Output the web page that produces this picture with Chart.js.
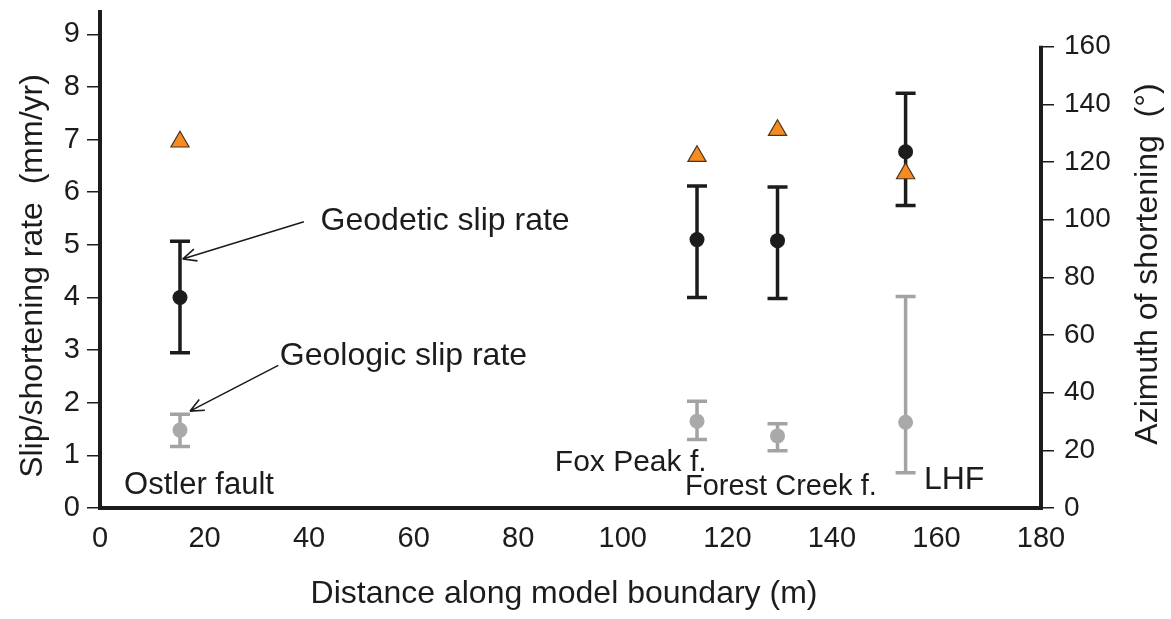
<!DOCTYPE html>
<html>
<head>
<meta charset="utf-8">
<script src="https://cdn.jsdelivr.net/npm/chart.js@4.4.1/dist/chart.umd.min.js"></script>
<style>
  html, body { margin: 0; padding: 0; background: #fff; }
  #wrap { width: 1171px; height: 619px; }
</style>
</head>
<body>
<div id="wrap"><canvas id="slipChart" width="1171" height="619"></canvas></div>
<script>
// ── Data ──────────────────────────────────────────────────────────
const faultNames = ['Ostler fault', 'Fox Peak f.', 'Forest Creek f.', 'LHF'];
const distance = [15.3, 114.2, 129.6, 154.1];

// geodetic slip rate, mm/yr
const geodeticRate = [4.0, 5.1, 5.08, 6.77];
const geodeticLow = [2.95, 4.0, 3.98, 5.75];
const geodeticHigh = [5.07, 6.12, 6.1, 7.88];

// geologic slip rate, mm/yr
const geologicRate = [1.48, 1.65, 1.37, 1.63];
const geologicLow = [1.17, 1.3, 1.09, 0.67];
const geologicHigh = [1.78, 2.03, 1.6, 4.02];

// azimuth of shortening, degrees
const azimuth = [127, 122, 131, 116];

const rateTicks = [0, 1, 2, 3, 4, 5, 6, 7, 8, 9];
const azimuthTicks = [0, 20, 40, 60, 80, 100, 120, 140, 160];
const distanceTicks = [0, 20, 40, 60, 80, 100, 120, 140, 160, 180];

const FONT = "'Liberation Sans', Arial, sans-serif";
const INK = '#1c1c1c';

Chart.defaults.font.family = FONT;
Chart.defaults.color = INK;

const withBars = (vals, lo, hi) => distance.map((d, i) => ({ x: d, y: vals[i], lo: lo[i], hi: hi[i] }));

// ── Error bars (drawn under the points) ──────────────────────────
const errorBars = {
    id: 'errorBars',
    beforeDatasetsDraw(chart) {
        const { ctx } = chart;
        chart.data.datasets.forEach(ds => {
            if (!ds.errorColor) return;
            const xs = chart.scales[ds.xAxisID || 'x'];
            const ys = chart.scales[ds.yAxisID || 'y'];
            ctx.save();
            ctx.strokeStyle = ds.errorColor;
            ctx.lineWidth = 3.5;
            ds.data.forEach(p => {
                const px = xs.getPixelForValue(p.x);
                const top = ys.getPixelForValue(p.hi);
                const bot = ys.getPixelForValue(p.lo);
                ctx.beginPath();
                ctx.moveTo(px, top); ctx.lineTo(px, bot);
                ctx.moveTo(px - 10, top); ctx.lineTo(px + 10, top);
                ctx.moveTo(px - 10, bot); ctx.lineTo(px + 10, bot);
                ctx.stroke();
            });
            ctx.restore();
        });
    }
};

// ── Labels, arrows, axis titles ──────────────────────────────────
// positions in data units (distance, mm/yr)
const notes = [
    { text: 'Geodetic slip rate', x: 42.2, y: 5.28, size: 32 },
    { text: 'Geologic slip rate', x: 34.4, y: 2.71, size: 32 },
    { text: faultNames[0], x: 4.6, y: 0.27, size: 31 },
    { text: faultNames[1], x: 87.0, y: 0.70, size: 30 },
    { text: faultNames[2], x: 111.9, y: 0.25, size: 29 },
    { text: faultNames[3], x: 157.6, y: 0.36, size: 32 },
];
const arrows = [
    { from: [39.0, 5.44], to: [15.8, 4.73] },
    { from: [34.1, 2.71], to: [17.2, 1.84] },
];

const decorations = {
    id: 'decorations',
    afterDraw(chart) {
        const { ctx, chartArea: area, scales: { x, y, y2 } } = chart;
        ctx.save();

        // right axis only runs from 0 to 160
        ctx.strokeStyle = INK;
        ctx.lineWidth = 4;
        ctx.beginPath();
        ctx.moveTo(area.right, y2.getPixelForValue(0) + 2);
        ctx.lineTo(area.right, y2.getPixelForValue(160) - 0.75);
        ctx.stroke();

        ctx.fillStyle = INK;
        ctx.textBaseline = 'alphabetic';
        ctx.textAlign = 'left';
        notes.forEach(n => {
            ctx.font = `${n.size}px ${FONT}`;
            ctx.fillText(n.text, x.getPixelForValue(n.x), y.getPixelForValue(n.y));
        });

        ctx.lineWidth = 1.6;
        arrows.forEach(a => {
            const x0 = x.getPixelForValue(a.from[0]), y0 = y.getPixelForValue(a.from[1]);
            const x1 = x.getPixelForValue(a.to[0]), y1 = y.getPixelForValue(a.to[1]);
            const ang = Math.atan2(y1 - y0, x1 - x0);
            ctx.beginPath();
            ctx.moveTo(x0, y0); ctx.lineTo(x1, y1);
            [-0.42, 0.42].forEach(da => {
                ctx.moveTo(x1, y1);
                ctx.lineTo(x1 - 15 * Math.cos(ang + da), y1 - 15 * Math.sin(ang + da));
            });
            ctx.stroke();
        });

        // axis titles
        ctx.font = `32px ${FONT}`;
        ctx.textAlign = 'center';
        ctx.textBaseline = 'middle';
        ctx.fillText('Distance along model boundary (m)', 564, 594);

        ctx.save();
        ctx.translate(33, 276);
        ctx.rotate(-Math.PI / 2);
        ctx.fillText('Slip/shortening rate  (mm/yr)', 0, 0);
        ctx.restore();

        ctx.save();
        ctx.translate(1148, 264);
        ctx.rotate(-Math.PI / 2);
        ctx.fillText('Azimuth of shortening  (\u00B0)', 0, 0);
        ctx.restore();

        ctx.restore();
    }
};

const tickGrid = { drawOnChartArea: false, drawTicks: true, tickLength: 13, color: INK, lineWidth: 1.5 };
const noPad = s => { s.paddingTop = 0; s.paddingBottom = 0; };

new Chart(document.getElementById('slipChart'), {
    type: 'scatter',
    data: {
        datasets: [
            {
                label: 'Azimuth of shortening',
                data: distance.map((d, i) => ({ x: d, y: azimuth[i] })),
                yAxisID: 'y2',
                pointStyle: 'triangle',
                pointRadius: 10.5,
                backgroundColor: '#f68b1f',
                borderColor: '#4a3522',
                borderWidth: 1.2,
                order: 0,
            },
            {
                label: 'Geodetic slip rate',
                data: withBars(geodeticRate, geodeticLow, geodeticHigh),
                yAxisID: 'y',
                pointRadius: 7.5,
                backgroundColor: INK,
                borderWidth: 0,
                errorColor: INK,
                order: 1,
            },
            {
                label: 'Geologic slip rate',
                data: withBars(geologicRate, geologicLow, geologicHigh),
                yAxisID: 'y',
                pointRadius: 7.5,
                backgroundColor: '#a9a9a9',
                borderWidth: 0,
                errorColor: '#a3a3a3',
                order: 2,
            },
        ]
    },
    options: {
        responsive: false,
        animation: false,
        layout: { padding: { top: 10, left: 0, right: 0, bottom: 0 } },
        plugins: { legend: { display: false }, tooltip: { enabled: false } },
        scales: {
            x: {
                type: 'linear', min: 0, max: 180,
                afterFit: s => { s.height = 111; },
                afterBuildTicks: s => { s.ticks = distanceTicks.map(v => ({ value: v })); },
                grid: { display: false },
                border: { display: true, width: 4, color: INK },
                ticks: { font: { size: 29 }, padding: 6, maxRotation: 0, autoSkip: false },
            },
            y: {
                position: 'left', min: 0, max: 9.43,
                afterFit: s => { s.width = 100; noPad(s); },
                afterBuildTicks: s => { s.ticks = rateTicks.map(v => ({ value: v })); },
                grid: tickGrid,
                border: { display: true, width: 4, color: INK },
                ticks: { font: { size: 29 }, padding: 7 },
            },
            y2: {
                position: 'right', min: 0, max: 172.1,
                afterFit: s => { s.width = 130; noPad(s); },
                afterBuildTicks: s => { s.ticks = azimuthTicks.map(v => ({ value: v })); },
                grid: tickGrid,
                border: { display: false },
                ticks: { font: { size: 28 }, padding: 10 },
            },
        },
    },
    plugins: [errorBars, decorations],
});
</script>
</body>
</html>
